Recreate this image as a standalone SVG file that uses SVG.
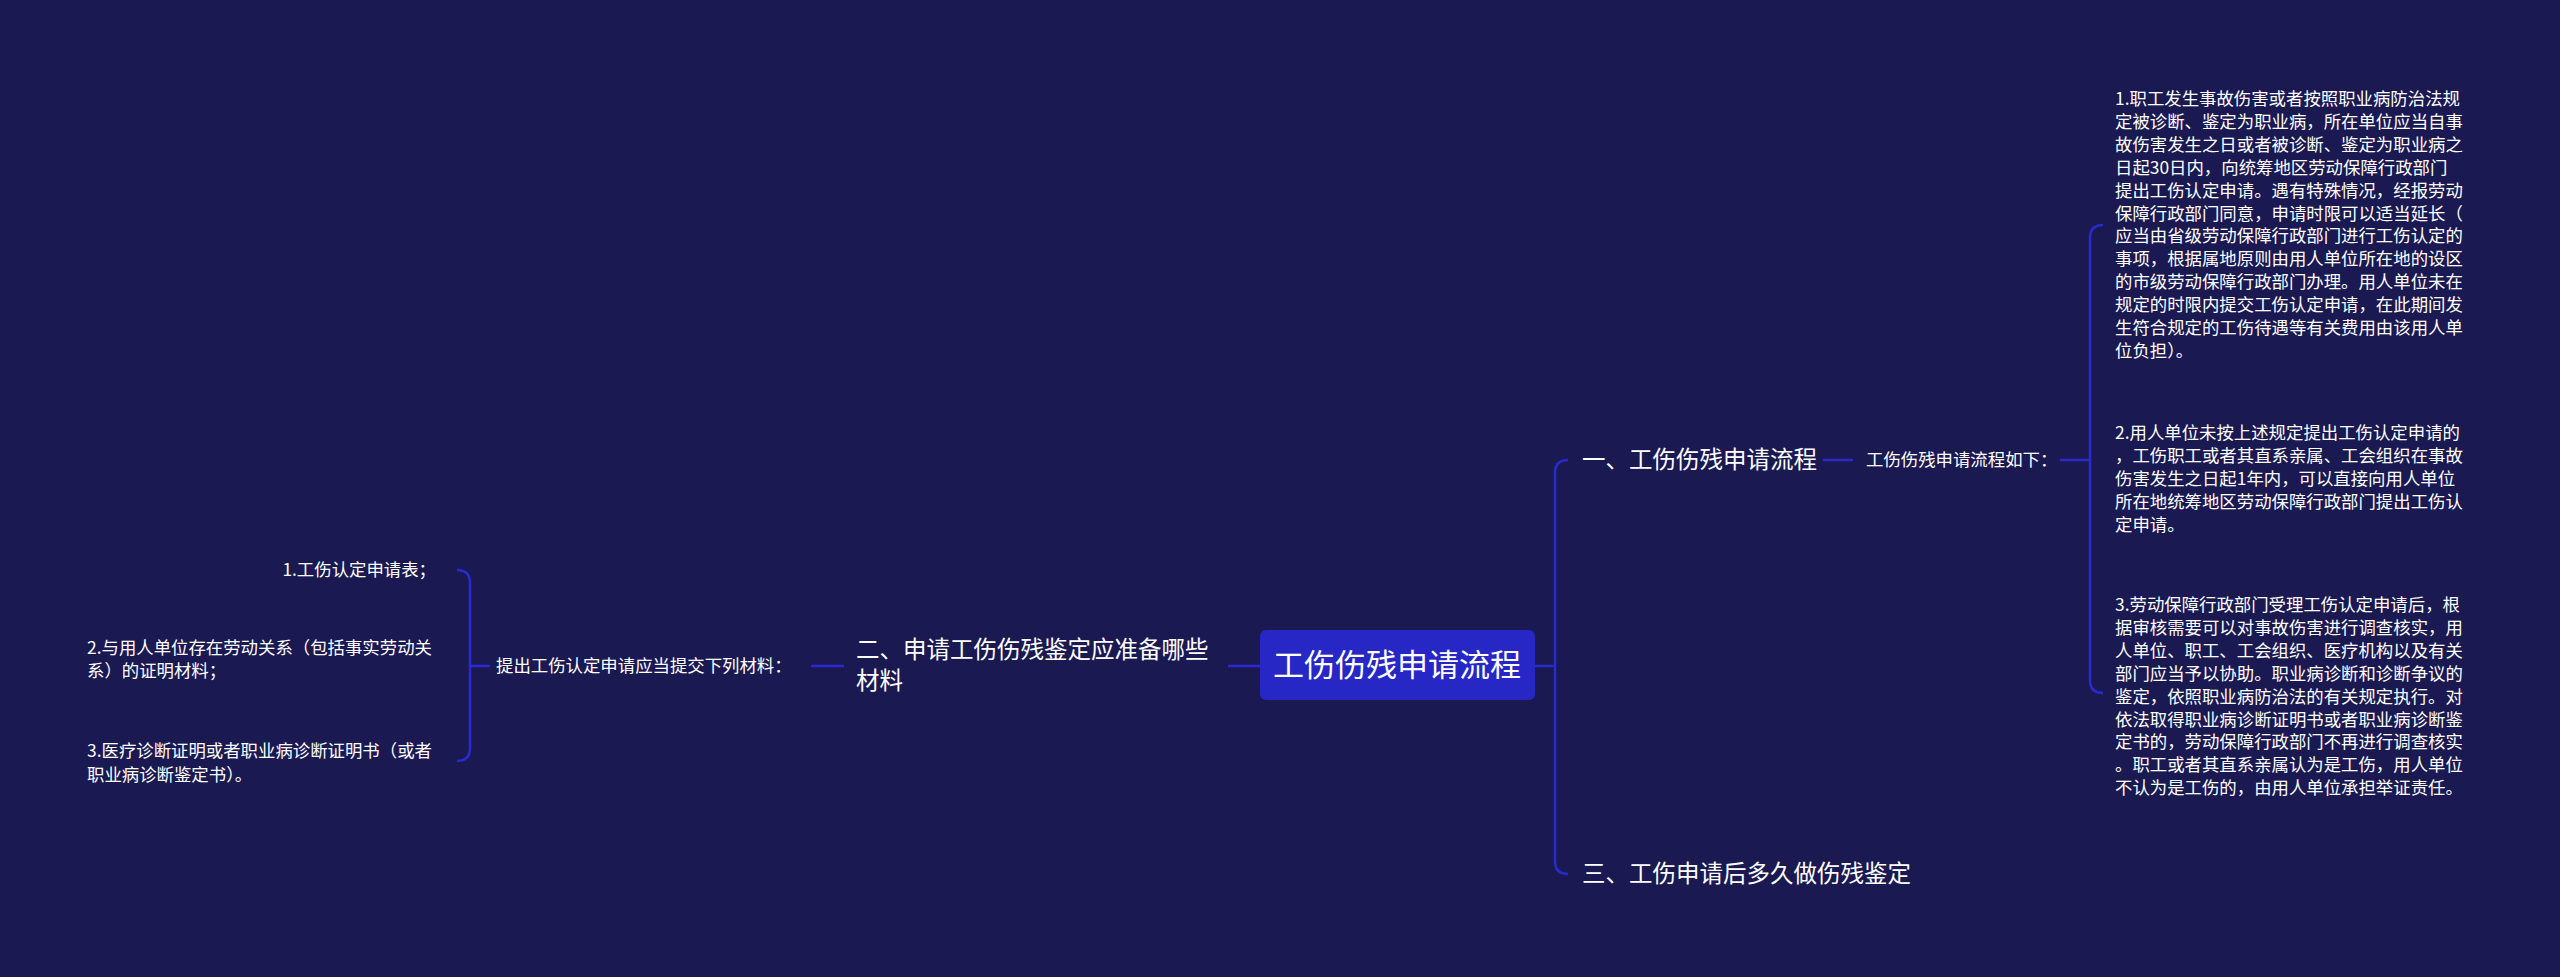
<svg xmlns="http://www.w3.org/2000/svg" width="2560" height="977" viewBox="0 0 2560 977">
<style>
text{font-family:"Noto Sans CJK SC","Liberation Sans",sans-serif;fill:#ffffff}
.l{fill:none;stroke:#2a2ad0;stroke-width:2.5}
.t1{font-size:23.5px}
.t2{font-size:17.4px}
.root{font-size:31px}
</style>
<rect width="2560" height="977" fill="#1a1951"/>
<g id="connectors">
<path class="l" d="M1535 666 H1555 M1568 460 Q1555 460 1555 473 V861 Q1555 874 1568 874"/>
<path class="l" d="M1823 460 H1853"/>
<path class="l" d="M2060 460 H2090 M2103 225 Q2090 225 2090 238 V680 Q2090 693 2103 693"/>
<path class="l" d="M1260 666 H1228"/>
<path class="l" d="M844 666 H811"/>
<path class="l" d="M490 666 H470 M457 570 Q470 570 470 583 V748 Q470 761 457 761"/>
</g>
<g id="root"><rect x="1260" y="630" width="275" height="70" rx="6" fill="#2727c6"/><text class="root" x="1397" y="676" text-anchor="middle">工伤伤残申请流程</text></g>
<g id="n1"><text class="t1" x="1582" y="468">一、工伤伤残申请流程</text></g>
<g id="n3"><text class="t1" x="1582" y="882">三、工伤申请后多久做伤残鉴定</text></g>
<g id="n1a"><text class="t2" x="1866" y="466">工伤伤残申请流程如下：</text></g>
<g id="r1"><text class="t2" x="2115">
<tspan x="2115" y="105">1.职工发生事故伤害或者按照职业病防治法规</tspan>
<tspan x="2115" y="127.9">定被诊断、鉴定为职业病，所在单位应当自事</tspan>
<tspan x="2115" y="150.8">故伤害发生之日或者被诊断、鉴定为职业病之</tspan>
<tspan x="2115" y="173.7">日起30日内，向统筹地区劳动保障行政部门</tspan>
<tspan x="2115" y="196.6">提出工伤认定申请。遇有特殊情况，经报劳动</tspan>
<tspan x="2115" y="219.5">保障行政部门同意，申请时限可以适当延长（</tspan>
<tspan x="2115" y="242.4">应当由省级劳动保障行政部门进行工伤认定的</tspan>
<tspan x="2115" y="265.3">事项，根据属地原则由用人单位所在地的设区</tspan>
<tspan x="2115" y="288.2">的市级劳动保障行政部门办理。用人单位未在</tspan>
<tspan x="2115" y="311.1">规定的时限内提交工伤认定申请，在此期间发</tspan>
<tspan x="2115" y="334">生符合规定的工伤待遇等有关费用由该用人单</tspan>
<tspan x="2115" y="356.9">位负担）。</tspan></text></g>
<g id="r2"><text class="t2">
<tspan x="2115" y="439">2.用人单位未按上述规定提出工伤认定申请的</tspan>
<tspan x="2115" y="461.9">，工伤职工或者其直系亲属、工会组织在事故</tspan>
<tspan x="2115" y="484.8">伤害发生之日起1年内，可以直接向用人单位</tspan>
<tspan x="2115" y="507.7">所在地统筹地区劳动保障行政部门提出工伤认</tspan>
<tspan x="2115" y="530.6">定申请。</tspan></text></g>
<g id="r3"><text class="t2">
<tspan x="2115" y="611">3.劳动保障行政部门受理工伤认定申请后，根</tspan>
<tspan x="2115" y="633.9">据审核需要可以对事故伤害进行调查核实，用</tspan>
<tspan x="2115" y="656.8">人单位、职工、工会组织、医疗机构以及有关</tspan>
<tspan x="2115" y="679.7">部门应当予以协助。职业病诊断和诊断争议的</tspan>
<tspan x="2115" y="702.6">鉴定，依照职业病防治法的有关规定执行。对</tspan>
<tspan x="2115" y="725.5">依法取得职业病诊断证明书或者职业病诊断鉴</tspan>
<tspan x="2115" y="748.4">定书的，劳动保障行政部门不再进行调查核实</tspan>
<tspan x="2115" y="771.3">。职工或者其直系亲属认为是工伤，用人单位</tspan>
<tspan x="2115" y="794.2">不认为是工伤的，由用人单位承担举证责任。</tspan></text></g>
<g id="n2"><text class="t1"><tspan x="856" y="658">二、申请工伤伤残鉴定应准备哪些</tspan><tspan x="856" y="689">材料</tspan></text></g>
<g id="n2a"><text class="t2" x="496" y="672">提出工伤认定申请应当提交下列材料：</text></g>
<g id="l1"><text class="t2" x="436" y="576" text-anchor="end">1.工伤认定申请表；</text></g>
<g id="l2"><text class="t2"><tspan x="87" y="654">2.与用人单位存在劳动关系（包括事实劳动关</tspan><tspan x="87" y="677">系）的证明材料；</tspan></text></g>
<g id="l3"><text class="t2"><tspan x="87" y="757">3.医疗诊断证明或者职业病诊断证明书（或者</tspan><tspan x="87" y="781">职业病诊断鉴定书）。</tspan></text></g>
</svg>
